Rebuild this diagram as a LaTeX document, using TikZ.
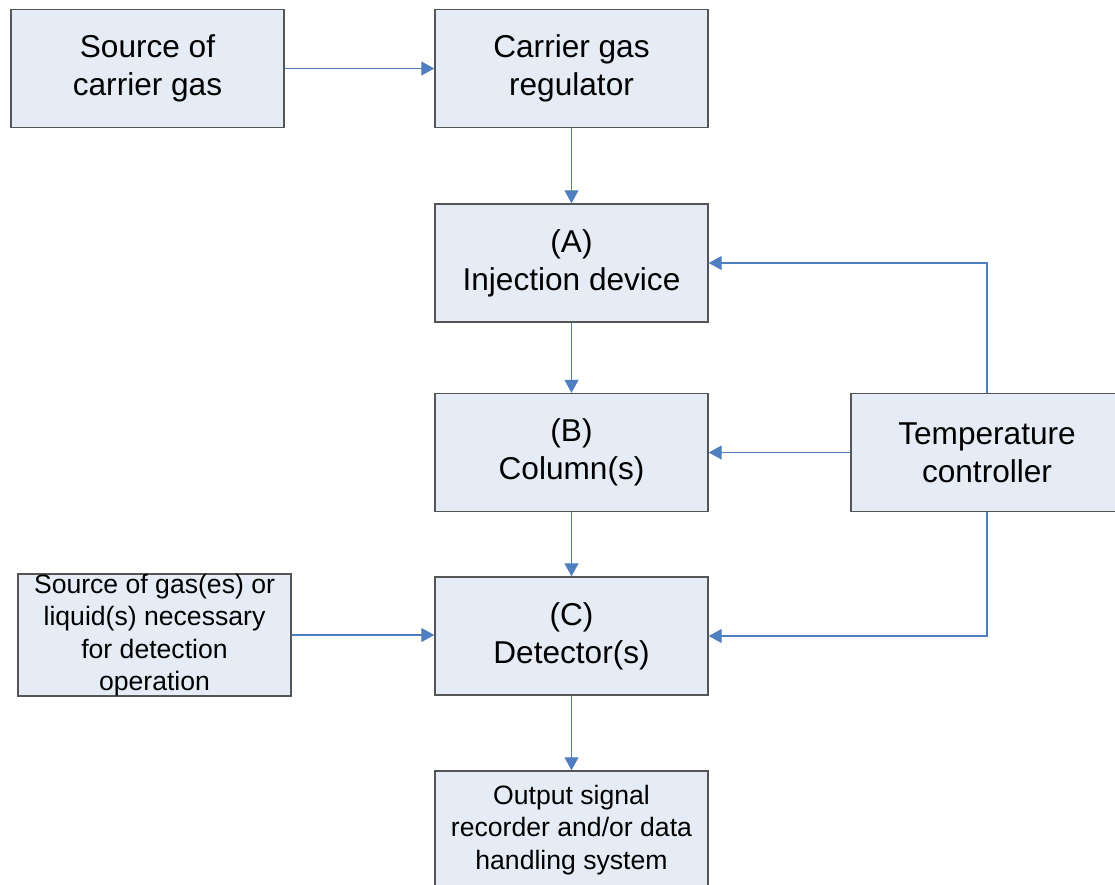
\documentclass[tikz,border=0pt]{standalone}
\usepackage{fontspec}
\setmainfont{Liberation Sans}
\usetikzlibrary{arrows.meta}
\definecolor{boxfill}{HTML}{E6ECF6}
\definecolor{boxline}{HTML}{555555}
\definecolor{arrowblue}{HTML}{4F7FC0}
\begin{document}
\begin{tikzpicture}[x=1pt,y=-1pt,
  blockbox/.style={draw=boxline,fill=boxfill,line width=1.4pt,minimum width=273pt,minimum height=118pt,inner sep=0pt,align=center,font=\fontsize{31.6}{38}\selectfont},
  smallbox/.style={blockbox,font=\fontsize{26.6}{32.4}\selectfont},
  flow/.style={draw=arrowblue,line width=1.1pt,-{Triangle[width=14pt,length=13pt]}}]
\useasboundingbox (0,0) rectangle (1115,885);
\clip (0,0) rectangle (1115,885);
\node[blockbox] (src) at (147.5,68.5) {Source of\\carrier gas};
\node[blockbox] (reg) at (571.5,68.5) {Carrier gas\\regulator};
\node[blockbox] (inj) at (571.5,263) {(A)\\Injection device};
\node[blockbox] (col) at (571.5,452.5) {(B)\\Column(s)};
\node[blockbox,minimum width=272pt] (temp) at (987,452.5) {Temperature\\controller};
\node[blockbox] (det) at (571.5,636) {(C)\\Detector(s)};
\node[smallbox] (aux) at (154.5,635) {Source of gas(es) or\\liquid(s) necessary\\for detection\\operation};
\node[smallbox] (out) at (571.5,830) {Output signal\\recorder and/or data\\handling system};
\draw[flow] (src) -- (reg);
\draw[flow] (reg) -- (inj);
\draw[flow] (inj) -- (col);
\draw[flow] (col) -- (det);
\draw[flow] (det) -- (out);
\draw[flow] (aux.east) -- (aux.east -| det.west);
\draw[flow] (temp.west) -- (col.east);
\draw[flow] (temp.north) |- (inj.east);
\draw[flow] (temp.south) |- (det.east);
\end{tikzpicture}
\end{document}
